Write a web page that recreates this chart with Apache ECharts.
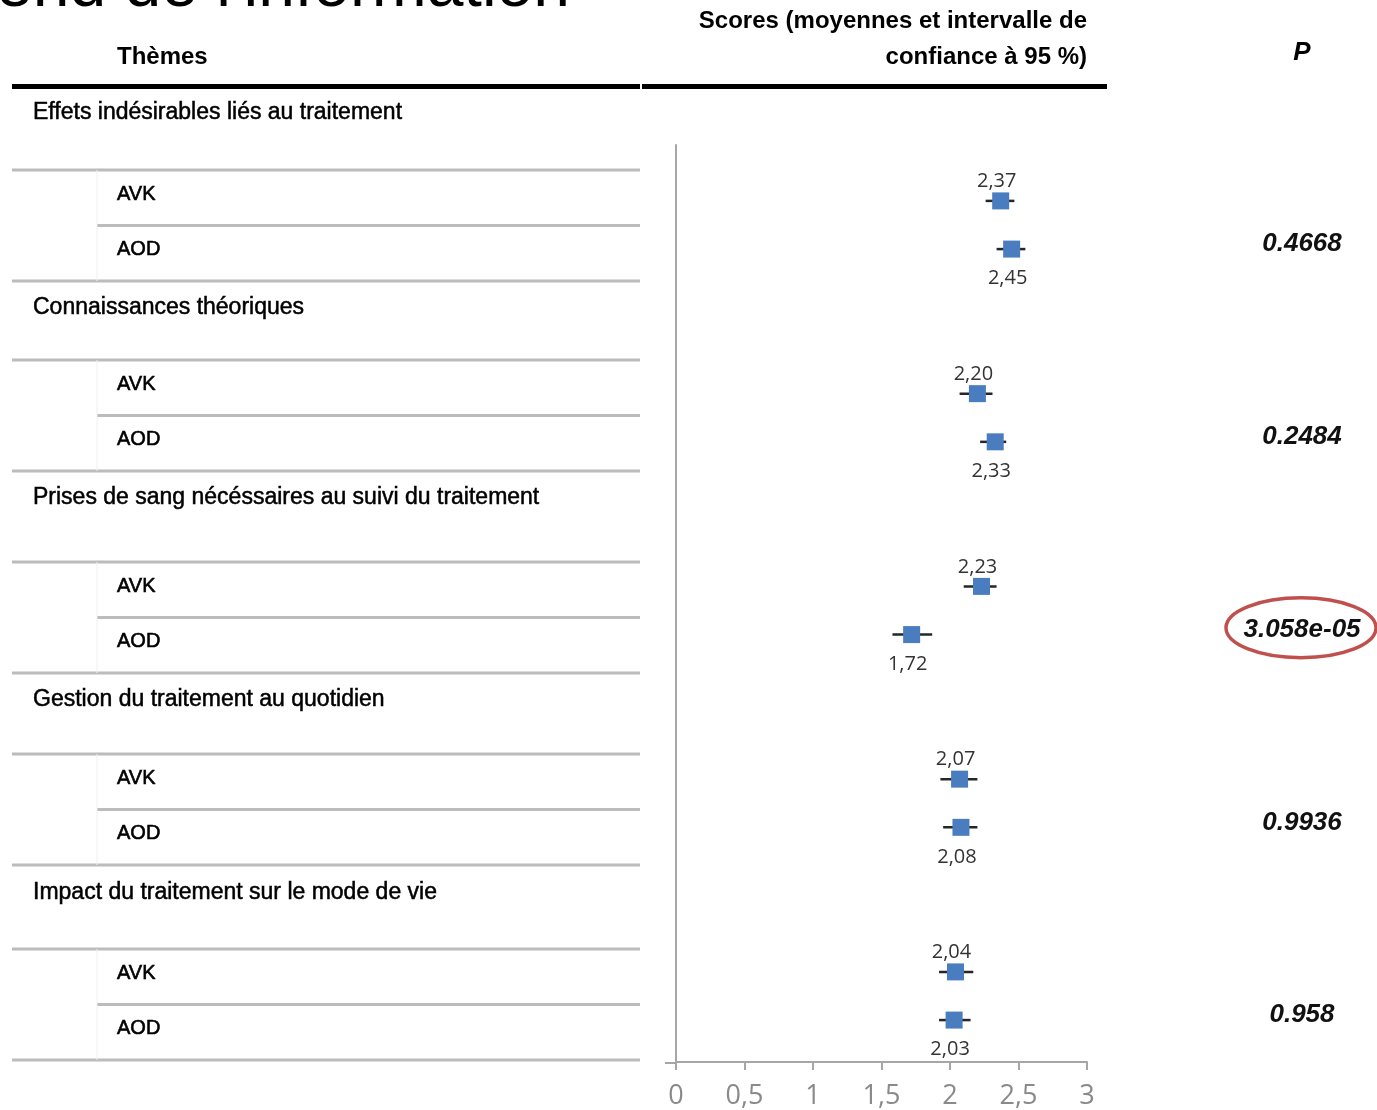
<!DOCTYPE html>
<html>
<head>
<meta charset="utf-8">
<script src="https://cdn.jsdelivr.net/npm/echarts@6/dist/echarts.min.js"></script>
<style>
  html, body { margin: 0; padding: 0; background: #ffffff; }
  #chart { width: 1377px; height: 1110px; }
</style>
</head>
<body>
<div id="chart"></div>
<script>
// Themes of the questionnaire and the two treatment groups
const themes = [
  'Effets indésirables liés au traitement',
  'Connaissances théoriques',
  'Prises de sang nécéssaires au suivi du traitement',
  'Gestion du traitement au quotidien',
  'Impact du traitement sur le mode de vie'
];
const groups = ['AVK', 'AOD'];

// Mean scores and 95 % confidence bounds
const avkMean = [2.37, 2.20, 2.23, 2.07, 2.04];
const avkLow  = [2.26, 2.07, 2.10, 1.93, 1.92];
const avkHigh = [2.47, 2.31, 2.34, 2.20, 2.17];
const aodMean = [2.45, 2.33, 1.72, 2.08, 2.03];
const aodLow  = [2.34, 2.22, 1.58, 1.95, 1.92];
const aodHigh = [2.55, 2.41, 1.87, 2.20, 2.15];

// p-values of the AVK / AOD comparison
const pValues = ['0.4668', '0.2484', '3.058e-05', '0.9936', '0.958'];

// Score axis
const xMin = 0, xMax = 3, xStep = 0.5;

// ---- layout ----
const W = 1377, H = 1110;
const plot = { left: 676, right: 1087, top: 145, bottom: 1063 };
const rowsPerGroup = 4;            // AVK row, AOD row, then spacing before next theme
const yTop = -1.16, yBottom = 17.87;
const pOffsetRow = 0.9;            // p-value sits between the two rows
const pColumnX = 1302;

// table geometry
const tableLeft = 12, tableRight = 640, subLeft = 97;
const groupTop = [86, 281, 471, 673, 866];
const titleH = [84, 79, 91, 81, 83];
const rowH = 55.5;

const comma = v => String(v).replace('.', ',');
const fmt2 = v => v.toFixed(2).replace('.', ',');

const chart = echarts.init(document.getElementById('chart'), null, { renderer: 'canvas' });

// Table graphics
const graphics = [];
const thinRule = (x1, x2, y) => ({
  type: 'line', silent: true,
  shape: { x1: x1, y1: y, x2: x2, y2: y },
  style: { stroke: '#bcbcbc', lineWidth: 3 }
});
const textEl = (x, y, text, font, extra) => ({
  type: 'text', silent: true, x: x, y: y,
  style: Object.assign({ text: text, fill: '#000', verticalAlign: 'middle', align: 'left' }, font, extra || {})
});
const bodyFont = { fontFamily: 'Liberation Sans, Arial, sans-serif', fontSize: 23, stroke: '#000', lineWidth: 0.5 };
const subFont  = { fontFamily: 'Liberation Sans, Arial, sans-serif', fontSize: 20, stroke: '#000', lineWidth: 0.6 };
const headFont = { fontFamily: 'Liberation Sans, Arial, sans-serif', fontSize: 24, fontWeight: 'bold' };

// clipped heading at the top
graphics.push(textEl(-4, -12, "end de l'information",
  { fontFamily: 'Liberation Sans, Arial, sans-serif', fontSize: 66 }));

// column headings
graphics.push(textEl(117, 57, 'Thèmes', headFont));
graphics.push(textEl(plot.right, 21, 'Scores (moyennes et intervalle de', headFont, { align: 'right' }));
graphics.push(textEl(plot.right, 57, 'confiance à 95 %)', headFont, { align: 'right' }));
graphics.push(textEl(pColumnX, 53, 'P', headFont, { align: 'center', fontStyle: 'italic', fontSize: 26 }));

// heavy heading rule
graphics.push({ type: 'rect', silent: true, shape: { x: tableLeft, y: 84, width: tableRight - tableLeft, height: 5 }, style: { fill: '#000' } });
graphics.push({ type: 'rect', silent: true, shape: { x: tableRight + 2, y: 84, width: 1107 - tableRight - 2, height: 5 }, style: { fill: '#000' } });

themes.forEach((t, g) => {
  const top = groupTop[g];
  const l1 = top + titleH[g];
  const l2 = l1 + rowH;
  const l3 = l2 + rowH;
  graphics.push(textEl(33, top + 27, t, bodyFont));
  graphics.push(thinRule(tableLeft, tableRight, l1));
  graphics.push(thinRule(subLeft, tableRight, l2));
  graphics.push(thinRule(tableLeft, tableRight, l3));
  graphics.push({ type: 'line', silent: true, shape: { x1: subLeft, y1: l1, x2: subLeft, y2: l3 }, style: { stroke: '#f0f0f0', lineWidth: 1 } });
  graphics.push(textEl(117, l1 + 24, groups[0], subFont));
  graphics.push(textEl(117, l2 + 24, groups[1], subFont));
});

// short stub of the score axis to the left of zero
graphics.push({ type: 'line', silent: true, shape: { x1: 665, y1: plot.bottom, x2: plot.left, y2: plot.bottom }, style: { stroke: '#a6a6a6', lineWidth: 2 } });

const rowOf = (g, k) => g * rowsPerGroup + k;

const avkPoints = avkMean.map((v, g) => [v, rowOf(g, 0)]);
const aodPoints = aodMean.map((v, g) => [v, rowOf(g, 1)]);
const ciData = [];
avkMean.forEach((v, g) => ciData.push([avkLow[g], avkHigh[g], rowOf(g, 0)]));
aodMean.forEach((v, g) => ciData.push([aodLow[g], aodHigh[g], rowOf(g, 1)]));

const labelFont = { fontFamily: 'Open Sans, sans-serif', fontSize: 20, color: '#333333' };
const markerColor = '#4a7dbf';

const option = {
  backgroundColor: '#ffffff',
  animation: false,
  graphic: graphics,
  grid: {
    left: plot.left, right: W - plot.right,
    top: plot.top, bottom: H - plot.bottom,
    containLabel: false
  },
  xAxis: {
    type: 'value', min: xMin, max: xMax, interval: xStep,
    axisLine: { show: true, onZero: false, lineStyle: { color: '#a6a6a6', width: 2 } },
    axisTick: { show: true, length: 8, lineStyle: { color: '#a6a6a6', width: 2 } },
    axisLabel: {
      formatter: comma, margin: 21,
      fontFamily: 'Open Sans, sans-serif', fontSize: 27, color: '#8a8a8a'
    },
    splitLine: { show: false }
  },
  yAxis: {
    type: 'value', inverse: true, min: yTop, max: yBottom,
    axisLine: { show: true, onZero: false, lineStyle: { color: '#a6a6a6', width: 2 } },
    axisTick: { show: false },
    axisLabel: { show: false },
    splitLine: { show: false }
  },
  series: [
    {
      type: 'custom', name: 'IC 95 %', z: 2,
      data: ciData,
      encode: { x: [0, 1], y: 2 },
      renderItem: function (params, api) {
        const a = api.coord([api.value(0), api.value(2)]);
        const b = api.coord([api.value(1), api.value(2)]);
        return {
          type: 'line',
          shape: { x1: a[0], y1: a[1], x2: b[0], y2: b[1] },
          style: { stroke: '#262626', lineWidth: 2.5 }
        };
      }
    },
    {
      type: 'scatter', name: groups[0], z: 3,
      symbol: 'rect', symbolSize: 17,
      itemStyle: { color: markerColor, opacity: 1 },
      data: avkPoints,
      label: {
        show: true, position: 'top', distance: 1, offset: [-4, 0],
        formatter: p => fmt2(p.value[0]), ...labelFont
      }
    },
    {
      type: 'scatter', name: groups[1], z: 3,
      symbol: 'rect', symbolSize: 17,
      itemStyle: { color: markerColor, opacity: 1 },
      data: aodPoints,
      label: {
        show: true, position: 'bottom', distance: 11, offset: [-4, 0],
        formatter: p => fmt2(p.value[0]), ...labelFont
      }
    },
    {
      type: 'custom', name: 'P', z: 4, clip: false,
      data: pValues.map((p, g) => [xMin, rowOf(g, pOffsetRow), parseFloat(p)]),
      encode: { x: 0, y: 1 },
      renderItem: function (params, api) {
        const c = api.coord([api.value(0), api.value(1)]);
        const label = pValues[params.dataIndex];
        const children = [{
          type: 'text', x: pColumnX, y: c[1],
          style: {
            text: label, align: 'center', verticalAlign: 'middle',
            fontFamily: 'Liberation Sans, Arial, sans-serif', fontSize: 26,
            fontWeight: 'bold', fontStyle: 'italic', fill: '#111'
          }
        }];
        if (api.value(2) < 0.05) {
          children.push({
            type: 'ellipse',
            shape: { cx: pColumnX - 1, cy: c[1] - 2, rx: 75, ry: 30 },
            style: { fill: 'none', stroke: '#c0504d', lineWidth: 3.5 }
          });
        }
        return { type: 'group', children: children };
      }
    }
  ]
};

chart.setOption(option);
</script>
</body>
</html>
